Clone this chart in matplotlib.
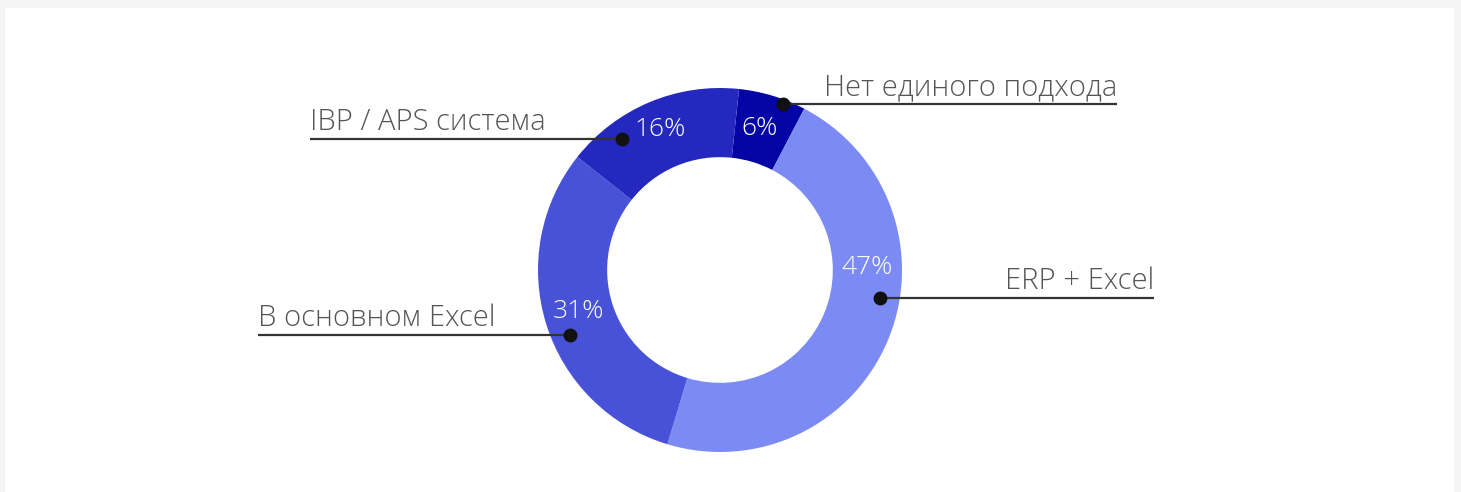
import numpy as np
import matplotlib.pyplot as plt
from matplotlib.patches import Rectangle

# data (clockwise from the top)
labels = ["Нет единого подхода", "ERP + Excel", "В основном Excel", "IBP / APS система"]
values = [6, 47, 31, 16]
colors = ["#0505a6", "#7c8bf4", "#4852d8", "#2428bf"]

# layout of the annotations: angle from top (clockwise), radius fraction
dot_angle = [20.8, 99.9, 246.6, 323.2]
dot_rad = [0.976, 0.89, 0.90, 0.90]
line_end = [1117, 1154, 258, 310]
pct_angle = [15.7, 89.0, 253.5, 336.8]
pct_rad = [0.81, 0.81, 0.81, 0.84]

W, H = 1461, 492
cx, cy, R = 720, H - 270, 182
font = "Open Sans"

fig = plt.figure(figsize=(W / 100, H / 100), dpi=100)
fig.patch.set_facecolor("#f5f5f5")
ax = fig.add_axes([0, 0, 1, 1])
ax.add_patch(Rectangle((5, 0), 1449, H - 8, facecolor="white", edgecolor="none", zorder=0))

ax.pie(values, colors=colors, startangle=84, counterclock=False,
       radius=R, center=(cx, cy), frame=True,
       wedgeprops=dict(width=R * 0.38, edgecolor="none"))
ax.set_xlim(0, W)
ax.set_ylim(0, H)
ax.set_aspect("equal")
ax.axis("off")


def polar(a, r):
    t = np.deg2rad(a)
    return cx + r * R * np.sin(t), cy + r * R * np.cos(t)


for i, lab in enumerate(labels):
    x0, y0 = polar(dot_angle[i], dot_rad[i])
    x1 = line_end[i]
    ax.plot([x0, x1], [y0, y0], color="#333333", lw=1.6, solid_capstyle="butt", zorder=3)
    ax.plot([x0], [y0], "o", color="#111111", ms=9, zorder=4)
    ha = "right" if x1 > x0 else "left"
    ax.text(x1, y0 + 9, lab, ha=ha, va="baseline", fontsize=21,
            color="#555555", family=font, fontweight="light")
    px, py = polar(pct_angle[i], pct_rad[i])
    ax.text(px, py, f"{values[i]}%", ha="center", va="center", fontsize=19,
            color="white", family=font, fontweight="light", zorder=5)

fig.savefig("out.png", dpi=100, facecolor=fig.get_facecolor())
